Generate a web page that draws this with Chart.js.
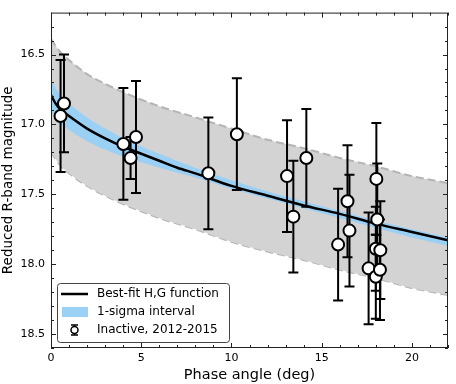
<!DOCTYPE html>
<html>
<head>
<meta charset="utf-8">
<script src="https://cdn.jsdelivr.net/npm/chart.js@4/dist/chart.umd.min.js"></script>
<style>
  html, body { margin: 0; padding: 0; background: #fff; }
  #wrap { width: 456px; height: 384px; }
</style>
</head>
<body>
<div id="wrap"><canvas id="phaseChart" width="456" height="384"></canvas></div>
<script>
// observations (phase angle, reduced mag, 1-sigma error)
const obsAngle = [0.53, 0.72, 4.01, 4.41, 4.71, 8.72, 10.30, 13.08, 13.43, 14.15,
                  15.91, 16.43, 16.54, 17.60, 18.00, 18.00, 18.03, 18.08, 18.25, 18.23];
const obsMag   = [16.94, 16.85, 17.14, 17.24, 17.09, 17.35, 17.07, 17.37, 17.66, 17.24,
                  17.86, 17.55, 17.76, 18.03, 17.89, 18.09, 17.39, 17.68, 17.90, 18.04];
const obsErr   = [0.40, 0.35, 0.40, 0.15, 0.40, 0.40, 0.40, 0.40, 0.40, 0.35,
                  0.40, 0.40, 0.40, 0.40, 0.30, 0.30, 0.40, 0.40, 0.35, 0.36];

// best-fit H,G curve
const fitAngle = [0, 0.25, 0.5, 1, 2, 3, 4, 5, 6, 7, 8, 10, 12, 14, 16, 18, 20, 22];
const fitMag   = [16.79, 16.85, 16.89, 16.94, 17.03, 17.10, 17.16, 17.21, 17.26, 17.31,
                  17.35, 17.44, 17.51, 17.58, 17.64, 17.71, 17.77, 17.83];

// bands
const bandAngle  = [0, 0.5, 1, 2, 3, 4, 6, 8, 10, 12, 14, 16, 18, 20, 22];
const sigmaUpper = [16.68, 16.79, 16.85, 16.95, 17.03, 17.10, 17.21, 17.31, 17.40, 17.48, 17.55, 17.62, 17.69, 17.75, 17.81];
const sigmaLower = [16.91, 16.99, 17.04, 17.12, 17.18, 17.23, 17.31, 17.38, 17.46, 17.53, 17.60, 17.67, 17.74, 17.81, 17.87];
const grayUpper  = [16.39, 16.48, 16.54, 16.64, 16.71, 16.77, 16.87, 16.95, 17.03, 17.11, 17.17, 17.24, 17.30, 17.37, 17.42];
const grayLower  = [17.20, 17.29, 17.35, 17.44, 17.51, 17.57, 17.67, 17.75, 17.84, 17.91, 17.97, 18.04, 18.10, 18.17, 18.22];

const xTicks = [0, 5, 10, 15, 20];
const yTicks = [16.5, 17.0, 17.5, 18.0, 18.5];

const toXY = (xs, ys) => xs.map((x, i) => ({ x: x, y: ys[i] }));

const BLUE = 'rgb(155, 208, 245)';
const FONT = "'DejaVu Sans', sans-serif";

// error bars under the circles
const errorBars = {
  id: 'errorBars',
  beforeDatasetDraw(chart, args) {
    if (args.index !== 0) return;
    const { ctx, scales: { x, y } } = chart;
    ctx.save();
    ctx.strokeStyle = '#000';
    ctx.lineWidth = 2;
    obsAngle.forEach((a, i) => {
      const px = x.getPixelForValue(a);
      const top = y.getPixelForValue(obsMag[i] - obsErr[i]);
      const bot = y.getPixelForValue(obsMag[i] + obsErr[i]);
      ctx.beginPath();
      ctx.moveTo(px, top); ctx.lineTo(px, bot);
      ctx.moveTo(px - 5, top); ctx.lineTo(px + 5, top);
      ctx.moveTo(px - 5, bot); ctx.lineTo(px + 5, bot);
      ctx.stroke();
    });
    ctx.restore();
  }
};

// frame, inward ticks on all sides, legend box
const frameAndLegend = {
  id: 'frameAndLegend',
  afterDraw(chart) {
    const { ctx, chartArea: a, scales: { x, y } } = chart;
    ctx.save();
    ctx.strokeStyle = '#222';
    ctx.lineWidth = 1;
    ctx.strokeRect(a.left + 0.5, a.top + 0.5, a.right - a.left - 1, a.bottom - a.top - 1);

    ctx.beginPath();
    for (let v = 0; v <= 22; v += 1) {
      const px = Math.round(x.getPixelForValue(v)) + 0.5;
      const len = v % 5 === 0 ? 5 : 3;
      ctx.moveTo(px, a.bottom); ctx.lineTo(px, a.bottom - len);
      ctx.moveTo(px, a.top); ctx.lineTo(px, a.top + len);
    }
    for (let k = 163; k <= 186; k++) {
      const v = k / 10;
      const py = Math.round(y.getPixelForValue(v)) + 0.5;
      const len = k % 5 === 0 ? 5 : 3;
      ctx.moveTo(a.left, py); ctx.lineTo(a.left + len, py);
      ctx.moveTo(a.right, py); ctx.lineTo(a.right - len, py);
    }
    ctx.stroke();

    // legend
    const bx = 57.5, by = 283.5, bw = 172, bh = 59;
    ctx.fillStyle = 'rgba(255,255,255,0.9)';
    ctx.strokeStyle = '#444';
    ctx.beginPath();
    ctx.roundRect(bx, by, bw, bh, 3);
    ctx.fill();
    ctx.stroke();

    const ds = chart.data.datasets;
    const labels = [ds[1].label, ds[2].label, ds[0].label];
    const rows = [294, 312, 330];

    ctx.strokeStyle = '#000';
    ctx.lineWidth = 2.5;
    ctx.beginPath();
    ctx.moveTo(61, rows[0]); ctx.lineTo(88, rows[0]);
    ctx.stroke();

    ctx.fillStyle = BLUE;
    ctx.fillRect(62, rows[1] - 5, 26, 10);

    ctx.lineWidth = 1.5;
    ctx.beginPath();
    ctx.moveTo(74.5, rows[2] - 5); ctx.lineTo(74.5, rows[2] + 5);
    ctx.moveTo(71, rows[2] - 5); ctx.lineTo(78, rows[2] - 5);
    ctx.moveTo(71, rows[2] + 5); ctx.lineTo(78, rows[2] + 5);
    ctx.stroke();
    ctx.fillStyle = '#fff';
    ctx.beginPath();
    ctx.arc(74.5, rows[2], 3.5, 0, Math.PI * 2);
    ctx.fill();
    ctx.stroke();

    ctx.fillStyle = '#000';
    ctx.font = '12px ' + FONT;
    ctx.textBaseline = 'middle';
    ctx.textAlign = 'left';
    labels.forEach((t, i) => ctx.fillText(t, 97, rows[i]));
    ctx.restore();
  }
};

const ctx = document.getElementById('phaseChart').getContext('2d');
new Chart(ctx, {
  type: 'scatter',
  data: {
    datasets: [
      {
        label: 'Inactive, 2012-2015',
        data: toXY(obsAngle, obsMag),
        pointRadius: 6,
        pointBackgroundColor: '#fff',
        pointBorderColor: '#000',
        pointBorderWidth: 2,
        showLine: false,
        order: 0
      },
      {
        label: 'Best-fit H,G function',
        data: toXY(fitAngle, fitMag),
        showLine: true,
        borderColor: '#000',
        borderWidth: 2.5,
        pointRadius: 0,
        cubicInterpolationMode: 'monotone',
        fill: false,
        order: 1
      },
      {
        label: '1-sigma interval',
        data: toXY(bandAngle, sigmaUpper),
        showLine: true,
        borderWidth: 0,
        borderColor: 'rgba(0,0,0,0)',
        backgroundColor: BLUE,
        pointRadius: 0,
        cubicInterpolationMode: 'monotone',
        fill: 3,
        order: 2
      },
      {
        label: 'sigma lower',
        data: toXY(bandAngle, sigmaLower),
        showLine: true,
        borderWidth: 0,
        borderColor: 'rgba(0,0,0,0)',
        pointRadius: 0,
        cubicInterpolationMode: 'monotone',
        fill: false,
        order: 3
      },
      {
        label: 'gray upper',
        data: toXY(bandAngle, grayUpper),
        showLine: true,
        borderColor: '#b4b4b4',
        borderWidth: 2,
        borderDash: [8, 4],
        backgroundColor: '#d3d3d3',
        pointRadius: 0,
        cubicInterpolationMode: 'monotone',
        fill: 5,
        order: 4
      },
      {
        label: 'gray lower',
        data: toXY(bandAngle, grayLower),
        showLine: true,
        borderColor: '#b4b4b4',
        borderWidth: 2,
        borderDash: [8, 4],
        pointRadius: 0,
        cubicInterpolationMode: 'monotone',
        fill: false,
        order: 5
      }
    ]
  },
  options: {
    responsive: false,
    animation: false,
    layout: { padding: { top: 5, right: 6, left: 0, bottom: 0 } },
    plugins: {
      legend: { display: false },
      tooltip: { enabled: false }
    },
    scales: {
      x: {
        type: 'linear',
        min: 0,
        max: 22,
        afterFit: (s) => { s.height = 36; },
        afterBuildTicks: (s) => { s.ticks = xTicks.map(v => ({ value: v })); },
        grid: { display: false, drawTicks: false },
        border: { display: false },
        ticks: { color: '#000', font: { family: FONT, size: 11 }, padding: 4, maxRotation: 0 },
        title: { display: true, text: 'Phase angle (deg)', color: '#000', font: { family: FONT, size: 14.5 }, padding: { top: 0, bottom: 0 } }
      },
      y: {
        type: 'linear',
        reverse: true,
        min: 16.2,
        max: 18.6,
        afterFit: (s) => { s.width = 51; },
        afterBuildTicks: (s) => { s.ticks = yTicks.map(v => ({ value: v })); },
        grid: { display: false, drawTicks: false },
        border: { display: false },
        ticks: { color: '#000', font: { family: FONT, size: 11 }, padding: 6, callback: (v) => Number(v).toFixed(1) },
        title: { display: true, text: 'Reduced R-band magnitude', color: '#000', font: { family: FONT, size: 13.5 }, padding: { top: 0, bottom: 2 } }
      }
    }
  },
  plugins: [errorBars, frameAndLegend]
});
</script>
</body>
</html>
